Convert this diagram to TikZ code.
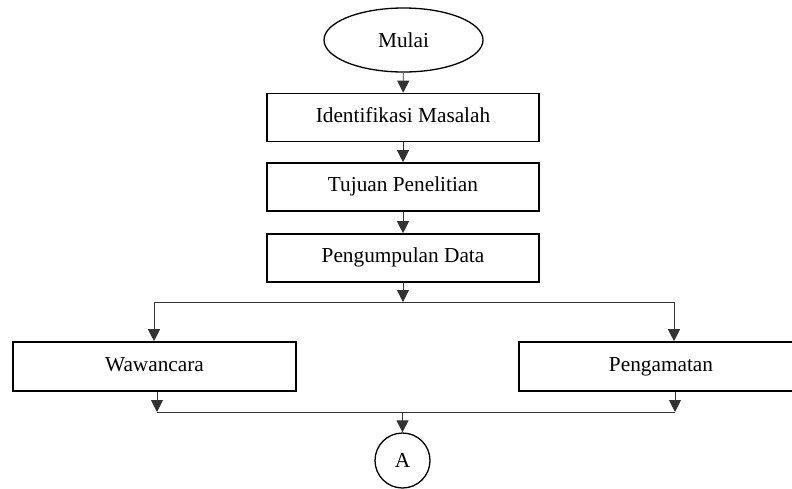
\documentclass[tikz,border=0pt]{standalone}
\usepackage{fontspec}
\setmainfont{Liberation Serif}
\usetikzlibrary{shapes.geometric,arrows.meta}
\begin{document}
\begin{tikzpicture}[x=1pt,y=-1pt,
  box/.style={draw,line width=1.6pt,rectangle,minimum height=48pt,inner sep=0pt,text height=14pt,text depth=4.5pt},
  conn/.style={line width=0.9pt,draw=black!80},
  arr/.style={conn,-{Triangle[width=12pt,length=12pt]}},
  every node/.style={font=\fontsize{21.3}{25}\selectfont}]
\useasboundingbox (0,0) rectangle (792,488);
\begin{scope}
\clip (0,0) rectangle (792,488);
\node[draw,ellipse,line width=1.3pt,minimum width=159pt,minimum height=64pt,inner sep=0pt] (start) at (403.5,40) {Mulai};
\node[box,minimum width=272pt] (b1) at (403,117.5) {Identifikasi Masalah};
\node[box,minimum width=272pt] (b2) at (403,187) {Tujuan Penelitian};
\node[box,minimum width=272pt] (b3) at (403,258) {Pengumpulan Data};
\node[box,minimum width=283pt,minimum height=49pt] (w) at (154.5,366.5) {Wawancara};
\node[box,minimum width=320pt,minimum height=49pt] (p) at (679,366.5) {\hspace*{-36pt}Pengamatan};
\node[draw,circle,line width=1.3pt,minimum size=55pt,inner sep=0pt] (a) at (402.5,460.5) {A};
\coordinate (br) at (403,302);
\coordinate (brl) at (154,302);
\coordinate (brr) at (674,302);
\coordinate (jl) at (157,412);
\coordinate (jr) at (675,412);
\coordinate (jc) at (402.5,412);
\draw[arr] (start) -- (b1);
\draw[arr] (b1) -- (b2);
\draw[arr] (b2) -- (b3);
\draw[arr] (b3) -- (br);
\draw[conn] (brl) -- (brr);
\draw[arr] (brl) -- (brl |- w.north);
\draw[arr] (brr) -- (brr |- p.north);
\draw[arr] (jl |- w.south) -- (jl);
\draw[arr] (jr |- p.south) -- (jr);
\draw[conn] (jl) -- (jr);
\draw[arr] (jc) -- (a);
\end{scope}
\end{tikzpicture}
\end{document}
